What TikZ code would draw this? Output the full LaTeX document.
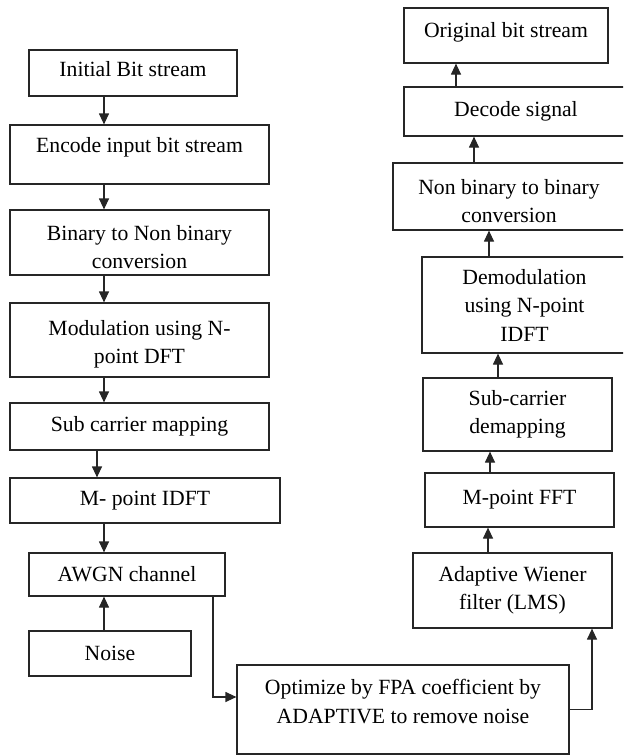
\documentclass[tikz,border=0pt]{standalone}
\usepackage{fontspec}
\setmainfont{Liberation Serif}
\usetikzlibrary{arrows.meta}
\tikzset{
  box/.style={draw=black!85, line width=0.6pt, align=center, inner sep=1pt,
    font=\fontsize{10.85}{14.25}\selectfont},
  sz/.style 2 args={minimum width=#1*0.5pt, minimum height=#2*0.5pt},
  arr/.style={draw=black!85, line width=0.6pt, -{Triangle[length=5.5pt,width=5pt]}}
}

\begin{document}
\begin{tikzpicture}[x=0.5pt, y=-0.5pt]
			%%%%% START %%%%%
			\useasboundingbox (0, 0) rectangle (623, 755);
			\clip (0, 0) rectangle (623, 755);
			
			% transmitter side
			\node[box, sz={208}{46}, text height=7.5pt, text depth=4pt] (init) at (133, 73) {Initial Bit stream};
			\node[box, sz={259}{59}, text height=7.5pt, text depth=10pt] (enc) at (139.5, 154.5) {Encode input bit stream};
			\node[box, sz={259}{65}] (bin) at (139.5, 242.5) {\mbox{}\\[-2.25pt]Binary to Non binary\\conversion};
			\node[box, sz={259}{74}] (mod) at (139.5, 340) {\mbox{}\\[-2.25pt]Modulation using N-\\point DFT};
			\node[box, sz={259}{47}] (sub) at (139.5, 426.5) {Sub carrier mapping};
			\node[box, sz={270}{45}] (midft) at (145, 500.5) {M- point IDFT};
			\node[box, sz={196}{43}] (awgn) at (127, 574.5) {AWGN channel};
			\node[box, sz={162}{45}] (noise) at (110, 653.5) {Noise};
			
			\node[box, sz={332}{89}] (opt) at (403, 709.5) {Optimize by FPA coefficient by\\ADAPTIVE to remove noise\\[-6.25pt]\mbox{}};
			
			% receiver side
			\node[box, sz={199}{75}] (wien) at (512.5, 590.5) {Adaptive Wiener\\filter (LMS)};
			\node[box, sz={189}{54}] (fft) at (519.5, 500) {M-point FFT};
			\node[box, sz={189}{73}] (subdm) at (517.5, 414.5) {Sub-carrier\\demapping};
			\node[box, sz={205}{96}] (demod) at (524.5, 305) {Demodulation\\using N-point\\IDFT};
			\node[box, sz={232}{67}] (nonbin) at (509, 196.5) {\mbox{}\\[-2.25pt]Non binary to binary\\conversion};
			\node[box, sz={224}{49}] (dec) at (516, 111.5) {Decode signal};
			\node[box, sz={204}{55}, text height=7.5pt, text depth=6pt] (orig) at (506, 35.5) {Original bit stream};
			
			% arrows down the left
			\draw[arr] (104, 0 |- init.south) -- (104, 0 |- enc.north);
			\draw[arr] (104, 0 |- enc.south) -- (104, 0 |- bin.north);
			\draw[arr] (104, 0 |- bin.south) -- (104, 0 |- mod.north);
			\draw[arr] (104, 0 |- mod.south) -- (104, 0 |- sub.north);
			\draw[arr] (97, 0 |- sub.south) -- (97, 0 |- midft.north);
			\draw[arr] (104, 0 |- midft.south) -- (104, 0 |- awgn.north);
			\draw[arr] (104, 0 |- noise.north) -- (104, 0 |- awgn.south);
			
			\draw[arr] (213, 0 |- awgn.south) |- ([yshift=6.25pt]opt.west);
			\draw[arr] (opt.east) -| (592, 0 |- wien.south);
			
			% arrows up the right
			\draw[arr] (488, 0 |- wien.north) -- (488, 0 |- fft.south);
			\draw[arr] (490, 0 |- fft.north) -- (490, 0 |- subdm.south);
			\draw[arr] (498, 0 |- subdm.north) -- (498, 0 |- demod.south);
			\draw[arr] (489, 0 |- demod.north) -- (489, 0 |- nonbin.south);
			\draw[arr] (474, 0 |- nonbin.north) -- (474, 0 |- dec.south);
			\draw[arr] (456, 0 |- dec.north) -- (456, 0 |- orig.south);
			
			%%%%% END %%%%%
\end{tikzpicture}
\end{document}
